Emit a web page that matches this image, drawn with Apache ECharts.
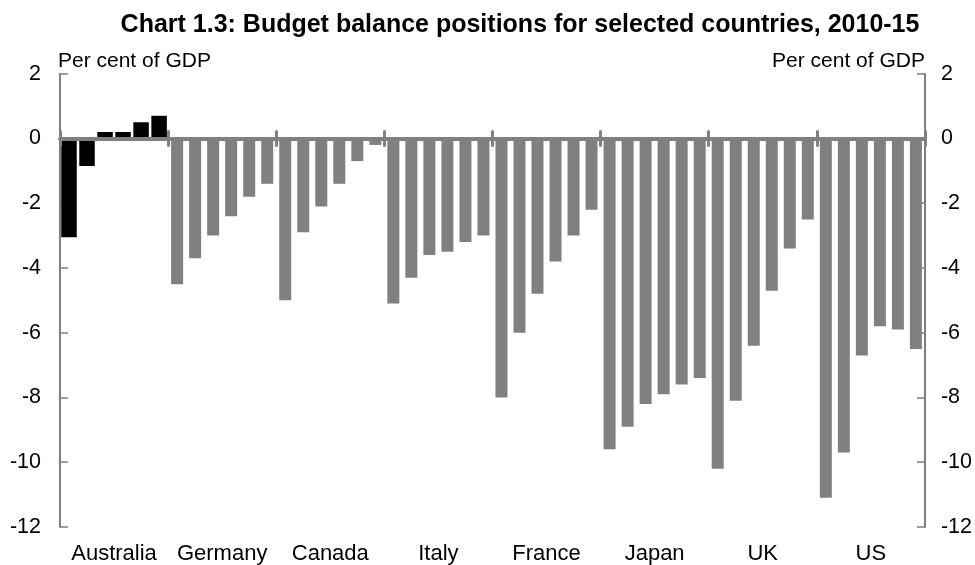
<!DOCTYPE html>
<html>
<head>
<meta charset="utf-8">
<script src="https://cdn.jsdelivr.net/npm/echarts@6/dist/echarts.min.js"></script>
<style>
  html, body { margin: 0; padding: 0; background: #fff; }
  #chart { width: 975px; height: 565px; }
</style>
</head>
<body>
<div id="chart"></div>
<script>
// Budget balance, per cent of GDP, 2010 to 2015 for each country
const countries = ['Australia', 'Germany', 'Canada', 'Italy', 'France', 'Japan', 'UK', 'US'];
const years = ['2010', '2011', '2012', '2013', '2014', '2015'];
const australia = [-3.05, -0.85, 0.2, 0.2, 0.5, 0.7];
const germany   = [-4.5, -3.7, -3.0, -2.4, -1.8, -1.4];
const canada    = [-5.0, -2.9, -2.1, -1.4, -0.7, -0.2];
const italy     = [-5.1, -4.3, -3.6, -3.5, -3.2, -3.0];
const france    = [-8.0, -6.0, -4.8, -3.8, -3.0, -2.2];
const japan     = [-9.6, -8.9, -8.2, -7.9, -7.6, -7.4];
const uk        = [-10.2, -8.1, -6.4, -4.7, -3.4, -2.5];
const us        = [-11.1, -9.7, -6.7, -5.8, -5.9, -6.5];
const yTicks = { min: -12, max: 2, interval: 2 };
const axisName = 'Per cent of GDP';

const others = [germany, canada, italy, france, japan, uk, us];

// one category per country-year
const slots = [];
countries.forEach(c => years.forEach(y => slots.push(c + ' ' + y)));

const blank = years.map(() => '-');
const australiaData = australia.concat(...others.map(() => blank));
const othersData = blank.concat(...others);

const FONT = 'Liberation Sans, Arial, sans-serif';
const GREY = '#808080';

const chart = echarts.init(document.getElementById('chart'), null, { renderer: 'canvas' });

chart.setOption({
  animation: false,
  backgroundColor: '#fff',
  title: {
    text: 'Chart 1.3: Budget balance positions for selected countries, 2010-15',
    left: 515,
    textAlign: 'center',
    top: 8,
    textStyle: { fontFamily: FONT, fontWeight: 'bold', fontSize: 25, color: '#000' }
  },
  grid: { left: 60, right: 50, top: 73.7, bottom: 36, containLabel: false },
  xAxis: [
    { // slots for the Australian bars
      type: 'category', data: slots, show: false
    },
    { // slots for the other countries
      type: 'category', data: slots, show: false
    },
    { // country names along the bottom
      type: 'category', data: countries, position: 'bottom',
      axisLine: { show: false, onZero: false },
      axisTick: { show: false },
      axisLabel: { fontFamily: FONT, fontSize: 22, color: '#000', margin: 16, interval: 0 }
    },
    { // zero line with downward group marks
      type: 'category', data: countries, position: 'bottom', z: 5,
      axisLine: { show: true, onZero: true, onZeroAxisIndex: 0, lineStyle: { color: GREY, width: 4 } },
      axisTick: { show: true, interval: 0, length: 7, lineStyle: { color: GREY, width: 3, cap: 'round' } },
      axisLabel: { show: false }
    },
    { // upward group marks on the zero line
      type: 'category', data: countries, position: 'top', z: 5,
      axisLine: { show: false, onZero: true, onZeroAxisIndex: 0 },
      axisTick: { show: true, interval: 0, length: 7, lineStyle: { color: GREY, width: 3, cap: 'round' } },
      axisLabel: { show: false }
    }
  ],
  yAxis: [
    {
      type: 'value', position: 'left', min: yTicks.min, max: yTicks.max, interval: yTicks.interval,
      name: axisName, nameLocation: 'end', nameGap: 2,
      nameTextStyle: { fontFamily: FONT, fontSize: 21, color: '#000', align: 'left', verticalAlign: 'bottom', padding: [0, 0, 0, -2] },
      axisLine: { show: true, lineStyle: { color: GREY, width: 2 } },
      axisTick: { show: true, inside: true, length: 8, lineStyle: { color: GREY, width: 1.5 } },
      axisLabel: { fontFamily: FONT, fontSize: 21.5, color: '#000', margin: 19 },
      splitLine: { show: false }
    },
    {
      type: 'value', position: 'right', min: yTicks.min, max: yTicks.max, interval: yTicks.interval,
      name: axisName, nameLocation: 'end', nameGap: 2,
      nameTextStyle: { fontFamily: FONT, fontSize: 21, color: '#000', align: 'right', verticalAlign: 'bottom' },
      axisLine: { show: true, lineStyle: { color: GREY, width: 2 } },
      axisTick: { show: true, inside: true, length: 8, lineStyle: { color: GREY, width: 1.5 } },
      axisLabel: { fontFamily: FONT, fontSize: 21.5, color: '#000', margin: 16 },
      splitLine: { show: false }
    }
  ],
  series: [
    {
      name: 'Australia', type: 'bar', xAxisIndex: 0, yAxisIndex: 0,
      data: australiaData, barWidth: 15.5,
      itemStyle: { color: '#000' }
    },
    {
      name: 'Other countries', type: 'bar', xAxisIndex: 1, yAxisIndex: 0,
      data: othersData, barWidth: 12,
      itemStyle: { color: GREY }
    }
  ]
});
</script>
</body>
</html>
